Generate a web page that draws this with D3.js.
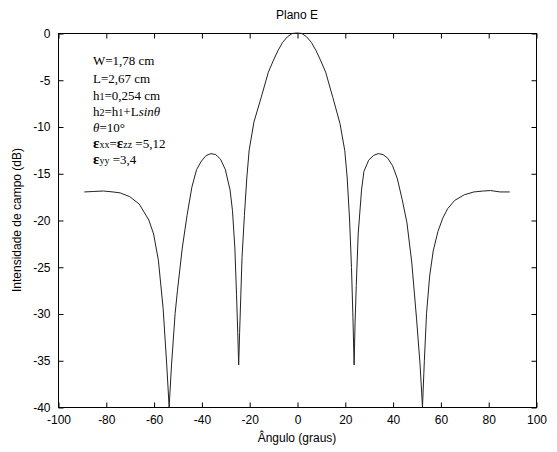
<!DOCTYPE html>
<html>
<head>
<meta charset="utf-8">
<script src="https://cdn.jsdelivr.net/npm/d3@7"></script>
<style>
  body { margin: 0; background: #fff; }
  svg text { font-family: "Liberation Sans", Arial, sans-serif; }
</style>
</head>
<body>
<div id="chart"></div>
<script>
// E-plane pattern
var angles = [-89, -85, -81, -77, -74, -70, -66, -62, -60, -58, -56, -54.5, -53.5, -52.5, -51, -50, -48, -46, -44, -42, -40, -38, -36, -34, -32, -30, -28, -27, -26, -25.3, -24.8, -24.4, -24, -23.5, -23, -22, -21, -20, -18, -15, -12, -10, -8, -6, -4, -2, 0,
  2, 4, 6, 8, 10, 12, 15, 18, 20, 21, 22, 22.8, 23.4, 23.9, 24.3, 24.8, 25.6, 27, 28, 30, 32, 34, 36, 38, 40, 42, 44, 46, 48, 50, 51.5, 52.5, 53.3, 54.2, 55.5, 57, 59, 61, 63, 66, 70, 74, 78, 81, 85, 89];
var gains = [-17.0, -16.95, -16.9, -17.0, -17.1, -17.5, -18.3, -20.0, -21.5, -24.3, -29.5, -35.5, -40, -35.5, -30, -27.5, -23, -19.5, -16.5, -14.6, -13.7, -13.1, -12.9, -13.0, -13.5, -14.6, -16.8, -19, -23, -28, -32, -35.5, -32, -28, -24, -19.5, -15.5, -12.5, -9.5, -6.9, -4.2, -3.0, -1.9, -1.0, -0.4, -0.05, 0,
  -0.05, -0.4, -1.0, -1.9, -3.0, -4.2, -6.9, -9.7, -12.6, -15.5, -20, -25.1, -30.4, -35.5, -31, -27, -21.5, -16.8, -14.8, -13.6, -13.1, -12.9, -13.0, -13.4, -14.2, -15.6, -17.8, -20.3, -24.5, -30.5, -35.5, -40, -35, -30, -26, -23.3, -21.2, -19.8, -18.8, -17.9, -17.3, -17.0, -16.9, -16.85, -17.0, -17.0];

var xTicks = [-100, -80, -60, -40, -20, 0, 20, 40, 60, 80, 100];
var yTicks = [0, -5, -10, -15, -20, -25, -30, -35, -40];

var notes = [
  [{ t: "W=1,78 cm" }],
  [{ t: "L=2,67 cm" }],
  [{ t: "h" }, { t: "1", sub: true }, { t: "=0,254 cm" }],
  [{ t: "h" }, { t: "2", sub: true }, { t: "=h" }, { t: "1", sub: true }, { t: "+L" }, { t: "sin", it: true }, { t: "θ", it: true }],
  [{ t: "θ", it: true }, { t: "=10°" }],
  [{ t: "ε", eps: true }, { t: "xx", sub: true }, { t: "=" }, { t: "ε", eps: true }, { t: "zz", sub: true }, { t: " =5,12" }],
  [{ t: "ε", eps: true }, { t: "yy", sub: true }, { t: " =3,4" }]
];

var width = 557, height = 452;
var mLeft = 58, mRight = 536, mTop = 33, mBottom = 407;

var svg = d3.select("#chart").append("svg")
  .attr("width", width)
  .attr("height", height);

var x = d3.scaleLinear().domain([-100, 100]).range([mLeft, mRight]);
var y = d3.scaleLinear().domain([-40, 0]).range([mBottom, mTop]);
var plain = function(d) { return String(d); };

// box
svg.append("rect")
  .attr("x", mLeft + 0.5).attr("y", mTop + 0.5)
  .attr("width", mRight - mLeft).attr("height", mBottom - mTop)
  .attr("fill", "none").attr("stroke", "#000").attr("stroke-width", 1);

// axes with inward ticks
var axB = svg.append("g").attr("transform", "translate(0.5," + (mBottom + 0.5) + ")")
  .call(d3.axisBottom(x).tickValues(xTicks).tickSizeInner(-5).tickSizeOuter(0).tickPadding(8).tickFormat(plain));
var axT = svg.append("g").attr("transform", "translate(0.5," + (mTop + 0.5) + ")")
  .call(d3.axisTop(x).tickValues(xTicks).tickSizeInner(-5).tickSizeOuter(0).tickFormat(""));
var axL = svg.append("g").attr("transform", "translate(" + (mLeft + 0.5) + ",0.5)")
  .call(d3.axisLeft(y).tickValues(yTicks).tickSizeInner(-5).tickSizeOuter(0).tickPadding(8).tickFormat(plain));
var axR = svg.append("g").attr("transform", "translate(" + (mRight + 0.5) + ",0.5)")
  .call(d3.axisRight(y).tickValues(yTicks).tickSizeInner(-5).tickSizeOuter(0).tickFormat(""));

[axB, axT, axL, axR].forEach(function(g) {
  g.select(".domain").remove();
  g.selectAll("line").attr("stroke", "#000");
  g.selectAll("text").attr("font-size", 12).attr("fill", "#000")
    .style("font-family", "'Liberation Sans', Arial, sans-serif");
});

// curve
var pts = angles.map(function(a, i) { return [a, gains[i]]; });
svg.append("path")
  .datum(pts)
  .attr("d", d3.line().x(function(d) { return x(d[0]); }).y(function(d) { return y(d[1]); }))
  .attr("fill", "none")
  .attr("stroke", "#222")
  .attr("stroke-width", 1);

// titles
svg.append("text").attr("x", (mLeft + mRight) / 2).attr("y", 19)
  .attr("text-anchor", "middle").attr("font-size", 12).text("Plano E");
svg.append("text").attr("x", (mLeft + mRight) / 2).attr("y", 442)
  .attr("text-anchor", "middle").attr("font-size", 12).text("Ângulo (graus)");
svg.append("text").attr("transform", "translate(21," + ((mTop + mBottom) / 2) + ") rotate(-90)")
  .attr("text-anchor", "middle").attr("font-size", 12).text("Intensidade de campo (dB)");

// parameter notes
var noteY = [65, 83, 100, 116, 132, 148, 164];
notes.forEach(function(line, i) {
  var t = svg.append("text").attr("x", 93).attr("y", noteY[i])
    .style("font-family", "'Liberation Serif', 'Times New Roman', serif")
    .attr("font-size", 13);
  line.forEach(function(p) {
    var s = t.append("tspan").text(p.t);
    if (p.sub) s.attr("font-size", 10);
    if (p.it) s.attr("font-style", "italic");
    if (p.eps) s.attr("font-size", 15).attr("font-weight", "bold");
  });
});
</script>
</body>
</html>
